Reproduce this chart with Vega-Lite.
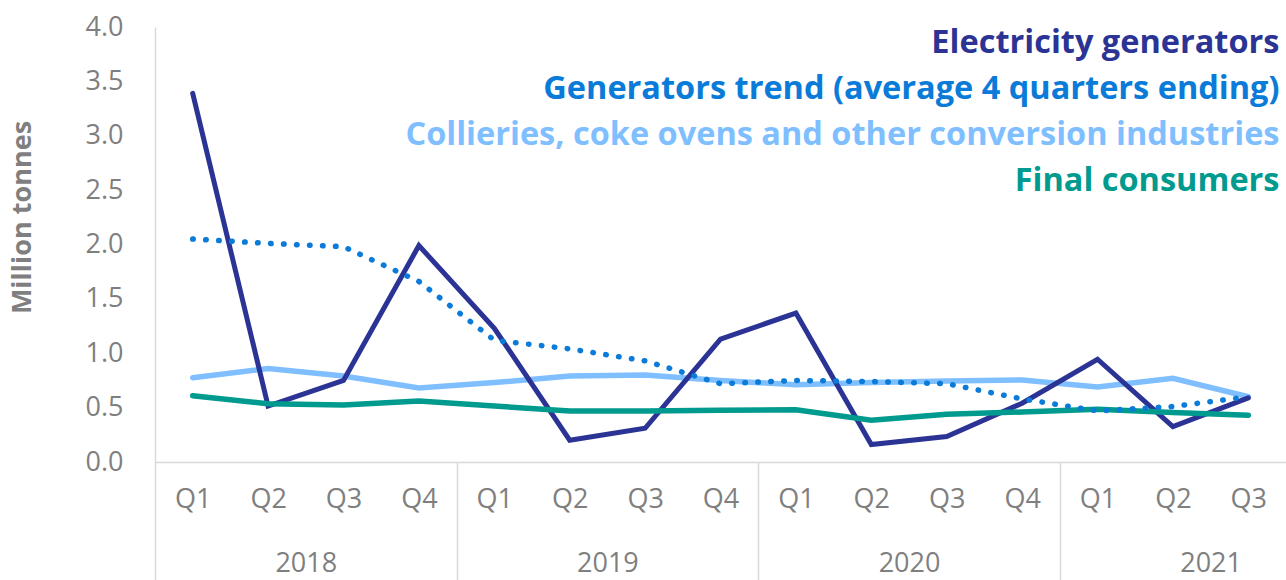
{
  "$schema": "https://vega.github.io/schema/vega-lite/v6.json",
  "width": 1131,
  "height": 435,
  "autosize": {"type": "none"},
  "padding": {"left": 155, "top": 27, "right": 0, "bottom": 118},
  "background": "white",
  "config": {"view": {"stroke": null}, "font": "Open Sans", "axis": {"grid": false}},
  "data": {"values": [
    {"p": "2018 Q1", "s": "Electricity generators", "v": 3.39},
    {"p": "2018 Q2", "s": "Electricity generators", "v": 0.515},
    {"p": "2018 Q3", "s": "Electricity generators", "v": 0.75},
    {"p": "2018 Q4", "s": "Electricity generators", "v": 1.99},
    {"p": "2019 Q1", "s": "Electricity generators", "v": 1.23},
    {"p": "2019 Q2", "s": "Electricity generators", "v": 0.2},
    {"p": "2019 Q3", "s": "Electricity generators", "v": 0.31},
    {"p": "2019 Q4", "s": "Electricity generators", "v": 1.13},
    {"p": "2020 Q1", "s": "Electricity generators", "v": 1.37},
    {"p": "2020 Q2", "s": "Electricity generators", "v": 0.16},
    {"p": "2020 Q3", "s": "Electricity generators", "v": 0.235},
    {"p": "2020 Q4", "s": "Electricity generators", "v": 0.54},
    {"p": "2021 Q1", "s": "Electricity generators", "v": 0.945},
    {"p": "2021 Q2", "s": "Electricity generators", "v": 0.325},
    {"p": "2021 Q3", "s": "Electricity generators", "v": 0.59},
    {"p": "2018 Q1", "s": "Generators trend (average 4 quarters ending)", "v": 2.05},
    {"p": "2018 Q2", "s": "Generators trend (average 4 quarters ending)", "v": 2.01},
    {"p": "2018 Q3", "s": "Generators trend (average 4 quarters ending)", "v": 1.98},
    {"p": "2018 Q4", "s": "Generators trend (average 4 quarters ending)", "v": 1.66},
    {"p": "2019 Q1", "s": "Generators trend (average 4 quarters ending)", "v": 1.12},
    {"p": "2019 Q2", "s": "Generators trend (average 4 quarters ending)", "v": 1.04},
    {"p": "2019 Q3", "s": "Generators trend (average 4 quarters ending)", "v": 0.93},
    {"p": "2019 Q4", "s": "Generators trend (average 4 quarters ending)", "v": 0.72},
    {"p": "2020 Q1", "s": "Generators trend (average 4 quarters ending)", "v": 0.75},
    {"p": "2020 Q2", "s": "Generators trend (average 4 quarters ending)", "v": 0.74},
    {"p": "2020 Q3", "s": "Generators trend (average 4 quarters ending)", "v": 0.72},
    {"p": "2020 Q4", "s": "Generators trend (average 4 quarters ending)", "v": 0.58},
    {"p": "2021 Q1", "s": "Generators trend (average 4 quarters ending)", "v": 0.47},
    {"p": "2021 Q2", "s": "Generators trend (average 4 quarters ending)", "v": 0.51},
    {"p": "2021 Q3", "s": "Generators trend (average 4 quarters ending)", "v": 0.6},
    {"p": "2018 Q1", "s": "Collieries, coke ovens and other conversion industries", "v": 0.775},
    {"p": "2018 Q2", "s": "Collieries, coke ovens and other conversion industries", "v": 0.86},
    {"p": "2018 Q3", "s": "Collieries, coke ovens and other conversion industries", "v": 0.79},
    {"p": "2018 Q4", "s": "Collieries, coke ovens and other conversion industries", "v": 0.68},
    {"p": "2019 Q1", "s": "Collieries, coke ovens and other conversion industries", "v": 0.73},
    {"p": "2019 Q2", "s": "Collieries, coke ovens and other conversion industries", "v": 0.79},
    {"p": "2019 Q3", "s": "Collieries, coke ovens and other conversion industries", "v": 0.8},
    {"p": "2019 Q4", "s": "Collieries, coke ovens and other conversion industries", "v": 0.75},
    {"p": "2020 Q1", "s": "Collieries, coke ovens and other conversion industries", "v": 0.71},
    {"p": "2020 Q2", "s": "Collieries, coke ovens and other conversion industries", "v": 0.73},
    {"p": "2020 Q3", "s": "Collieries, coke ovens and other conversion industries", "v": 0.745},
    {"p": "2020 Q4", "s": "Collieries, coke ovens and other conversion industries", "v": 0.755},
    {"p": "2021 Q1", "s": "Collieries, coke ovens and other conversion industries", "v": 0.69},
    {"p": "2021 Q2", "s": "Collieries, coke ovens and other conversion industries", "v": 0.77},
    {"p": "2021 Q3", "s": "Collieries, coke ovens and other conversion industries", "v": 0.6},
    {"p": "2018 Q1", "s": "Final consumers", "v": 0.61},
    {"p": "2018 Q2", "s": "Final consumers", "v": 0.535},
    {"p": "2018 Q3", "s": "Final consumers", "v": 0.525},
    {"p": "2018 Q4", "s": "Final consumers", "v": 0.56},
    {"p": "2019 Q1", "s": "Final consumers", "v": 0.515},
    {"p": "2019 Q2", "s": "Final consumers", "v": 0.47},
    {"p": "2019 Q3", "s": "Final consumers", "v": 0.47},
    {"p": "2019 Q4", "s": "Final consumers", "v": 0.475},
    {"p": "2020 Q1", "s": "Final consumers", "v": 0.48},
    {"p": "2020 Q2", "s": "Final consumers", "v": 0.385},
    {"p": "2020 Q3", "s": "Final consumers", "v": 0.44},
    {"p": "2020 Q4", "s": "Final consumers", "v": 0.46},
    {"p": "2021 Q1", "s": "Final consumers", "v": 0.485},
    {"p": "2021 Q2", "s": "Final consumers", "v": 0.455},
    {"p": "2021 Q3", "s": "Final consumers", "v": 0.43}
  ]},
  "encoding": {
    "y": {
      "field": "v", "type": "quantitative",
      "scale": {"domain": [0, 4], "nice": false, "zero": true},
      "axis": {
        "values": [0, 0.5, 1, 1.5, 2, 2.5, 3, 3.5, 4],
        "format": ".1f",
        "ticks": false,
        "domainColor": "#D9D9D9",
        "domainWidth": 1.5,
        "labelFontSize": 27,
        "labelColor": "#7F7F7F",
        "labelPadding": 32,
        "title": "Million tonnes",
        "titleFontSize": 27,
        "titleFontWeight": "bold",
        "titleColor": "#7F7F7F",
        "titleX": -119,
        "titleY": 190
      }
    },
    "color": {
      "field": "s", "type": "nominal",
      "scale": {
        "domain": ["Electricity generators", "Generators trend (average 4 quarters ending)", "Collieries, coke ovens and other conversion industries", "Final consumers"],
        "range": ["#2B3494", "#0A7BD8", "#7FBFFF", "#009A8E"]
      },
      "legend": {
        "orient": "none",
        "legendX": 1088,
        "legendY": 0,
        "title": null,
        "symbolOpacity": 0,
        "symbolSize": 0,
        "symbolStrokeWidth": 0,
        "labelFontSize": 32.5,
        "labelFontWeight": "bold",
        "labelFont": "Open Sans",
        "labelAlign": "right",
        "labelLimit": 0,
        "rowPadding": 13,
        "encode": {"labels": {"update": {"fill": {"scale": "color", "field": "value"}}}}
      }
    }
  },
  "layer": [
    {
      "transform": [{"filter": "datum.s === 'Collieries, coke ovens and other conversion industries'"}],
      "mark": {"type": "line", "strokeWidth": 5.5, "strokeCap": "round"},
      "encoding": {
        "x": {
          "field": "p", "type": "ordinal", "sort": null,
          "scale": {"type": "point", "padding": 0.5},
          "axis": {
            "orient": "bottom",
            "labelExpr": "split(datum.label, ' ')[1]",
            "ticks": false,
            "domainColor": "#D9D9D9",
            "domainWidth": 1.5,
            "labelFontSize": 27,
            "labelColor": "#7F7F7F",
            "labelPadding": 24,
            "labelAngle": 0,
            "title": null
          }
        }
      }
    },
    {
      "transform": [{"filter": "datum.s === 'Electricity generators'"}],
      "mark": {"type": "line", "strokeWidth": 5, "strokeJoin": "miter", "strokeCap": "round"},
      "encoding": {"x": {"field": "p", "type": "ordinal", "sort": null, "axis": null}}
    },
    {
      "transform": [{"filter": "datum.s === 'Final consumers'"}],
      "mark": {"type": "line", "strokeWidth": 5.5, "strokeCap": "round"},
      "encoding": {"x": {"field": "p", "type": "ordinal", "sort": null, "axis": null}}
    },
    {
      "transform": [{"filter": "datum.s === 'Generators trend (average 4 quarters ending)'"}],
      "mark": {"type": "line", "strokeWidth": 5.5, "strokeDash": [0.5, 12.5], "strokeCap": "round"},
      "encoding": {
        "x": {
          "field": "p", "type": "ordinal", "sort": null,
          "axis": {
            "orient": "bottom",
            "values": ["2018 Q2", "2019 Q2", "2020 Q2", "2021 Q2"],
            "labelExpr": "split(datum.label, ' ')[0]",
            "labelOffset": 150.8,
            "tickOffset": -113.1,
            "tickSize": 118,
            "tickColor": "#D9D9D9",
            "tickWidth": 1.5,
            "domain": false,
            "labelFontSize": 27,
            "labelColor": "#7F7F7F",
            "labelPadding": -30,
            "labelAngle": 0,
            "title": null
          }
        }
      }
    }
  ],
  "resolve": {"axis": {"x": "independent"}}
}
